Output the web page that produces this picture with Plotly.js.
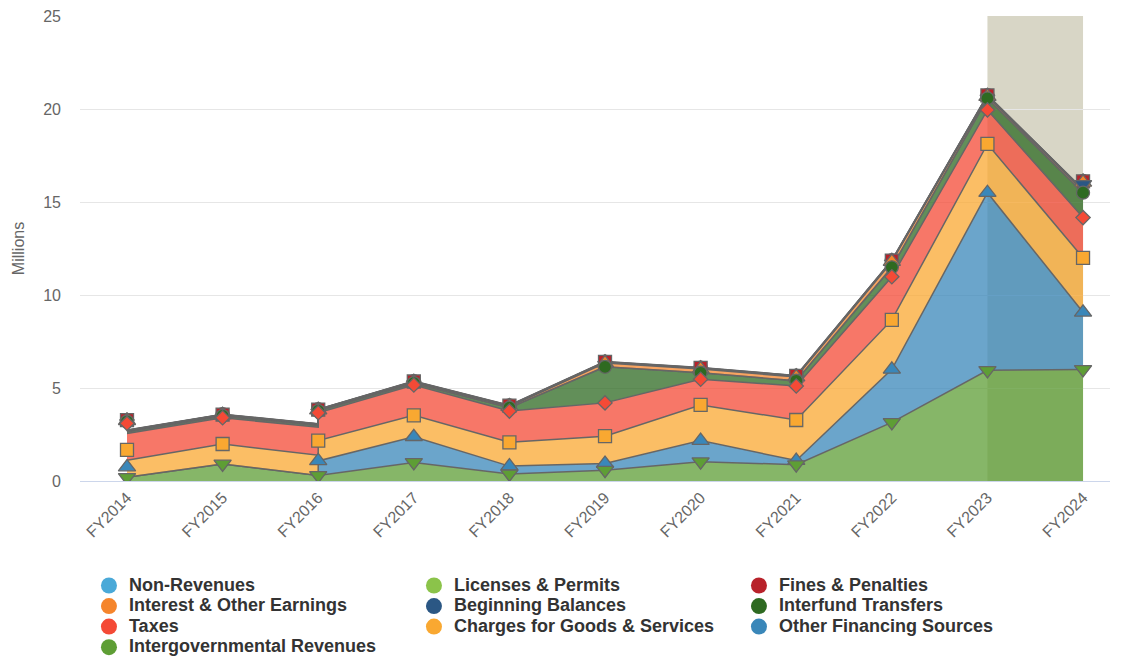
<!DOCTYPE html>
<html><head><meta charset="utf-8">
<script src="https://cdn.plot.ly/plotly-3.0.1.min.js"></script>
<style>html,body{margin:0;padding:0;background:#fff}#chart{width:1124px;height:658px}</style>
</head><body><div id="chart"></div>
<script>
// ---- data (millions) ----
const years = ['FY2014','FY2015','FY2016','FY2017','FY2018','FY2019','FY2020','FY2021','FY2022','FY2023','FY2024'];
const nonRevenues       = [0.01,0.01,0.01,0.01,0.01,0.01,0.01,0.01,0.01,0.01,0.01];
const licensesPermits   = [0.01,0.01,0.01,0.01,0.01,0.01,0.01,0.01,0.01,0.01,0.01];
const finesPenalties    = [0.03,0.03,0.03,0.04,0.05,0.06,0.06,0.06,0.06,0.06,0.06];
const interestEarnings  = [0.04,0.04,0.04,0.05,0.06,0.20,0.20,0.20,0.30,0.10,0.10];
const beginningBalances = [null,null,null,null,null,null,null,null,null,null,0.45];
const interfundTransfers= [0.10,0.10,0.10,0.10,0.18,1.94,0.35,0.28,0.51,0.62,1.34];
const taxes             = [1.43,1.41,1.50,1.63,1.68,1.79,1.38,1.83,2.32,1.83,2.16];
const chargesServices   = [0.92,1.07,1.09,1.15,1.28,1.47,1.92,2.18,2.66,2.62,2.93];
const otherFinancing    = [0.55,null,0.78,1.38,0.42,0.36,1.13,0.22,2.85,9.55,3.07];
const intergovernmental = [0.20,0.92,0.30,1.00,0.38,0.58,1.04,0.88,3.15,5.95,6.00];
const projectionBand = ['FY2023','FY2024'];

// series in legend order (first series sits on top of the stack)
const series = [
  {name:'Non-Revenues', values:nonRevenues, color:'#4aa9d8', symbol:'circle', size:13},
  {name:'Licenses & Permits', values:licensesPermits, color:'#8bc34a', symbol:'diamond', size:11},
  {name:'Fines & Penalties', values:finesPenalties, color:'#b8222a', symbol:'square', size:13},
  {name:'Interest & Other Earnings', values:interestEarnings, color:'#f5852c', symbol:'triangle-up', size:15},
  {name:'Beginning Balances', values:beginningBalances, color:'#2b5784', symbol:'triangle-down', size:15},
  {name:'Interfund Transfers', values:interfundTransfers, color:'#2e6a21', symbol:'circle', size:13},
  {name:'Taxes', values:taxes, color:'#f44a36', symbol:'diamond', size:11},
  {name:'Charges for Goods & Services', values:chargesServices, color:'#f9a831', symbol:'square', size:13},
  {name:'Other Financing Sources', values:otherFinancing, color:'#3a87b9', symbol:'triangle-up', size:15},
  {name:'Intergovernmental Revenues', values:intergovernmental, color:'#5e9e35', symbol:'triangle-down', size:15}
];

function rgba(hex, a){
  const r=parseInt(hex.slice(1,3),16), g=parseInt(hex.slice(3,5),16), b=parseInt(hex.slice(5,7),16);
  return 'rgba('+r+','+g+','+b+','+a+')';
}

const n = years.length;
const xIdx = years.map((_, i) => i);
const stack = series.slice().reverse(); // bottom of stack first
const traces = [];

// stacked areas: a segment of a series is drawn only when both ends are non-null (cliffs at gaps)
stack.forEach((s, k) => {
  const xs = [], ys = [];
  for (let i = 0; i < n - 1; i++) {
    let L = 0, R = 0;
    for (let j = 0; j <= k; j++) {
      const v = stack[j].values;
      if (v[i] != null && v[i+1] != null) { L += v[i]; R += v[i+1]; }
    }
    xs.push(i, i + 1); ys.push(L, R);
  }
  traces.push({
    type:'scatter', mode:'lines', x:xs, y:ys,
    fill: k === 0 ? 'tozeroy' : 'tonexty',
    fillcolor: rgba(s.color, 0.75),
    line:{color:'#666666', width:1.5, simplify:false},
    showlegend:false, hoverinfo:'skip'
  });
});

// markers at the stacked point values, drawn in series order
series.forEach((s) => {
  const k = stack.indexOf(s);
  const y = s.values.map((v, i) => {
    if (v == null) return null;
    let c = 0;
    for (let j = 0; j <= k; j++) c += (stack[j].values[i] || 0);
    return c;
  });
  traces.push({
    type:'scatter', mode:'markers', x:xIdx, y:y,
    marker:{symbol:s.symbol, size:s.size, color:s.color, line:{color:'#666666', width:1.3}},
    showlegend:false, hoverinfo:'skip'
  });
});

// legend entries
series.forEach((s) => {
  traces.push({
    type:'scatter', mode:'markers', x:[null], y:[null],
    name:'<span style="font-size:18px">' + s.name + '</span>',
    marker:{symbol:'circle', size:16, color:s.color, line:{width:0}},
    showlegend:true, hoverinfo:'skip'
  });
});

const layout = {
  width:1124, height:658,
  margin:{l:80, r:14, t:16, b:177},
  paper_bgcolor:'#ffffff', plot_bgcolor:'#ffffff',
  font:{family:'"Liberation Sans", Arial, Helvetica, sans-serif', color:'#666666'},
  xaxis:{
    range:[-0.4916, 10.282], tickmode:'array', tickvals:xIdx, ticktext:years,
    tickangle:-45, showgrid:false, zeroline:false, showline:true,
    linecolor:'#ccd6eb', linewidth:1, ticks:'', tickfont:{size:16, color:'#666666'}, fixedrange:true
  },
  yaxis:{
    range:[0,25], tickmode:'linear', tick0:0, dtick:5,
    gridcolor:'#e6e6e6', gridwidth:1, zeroline:false, showline:false,
    tickfont:{size:16, color:'#666666'}, ticklabelstandoff:18,
    title:{text:'Millions', font:{size:16, color:'#666666'}, standoff:14}, fixedrange:true
  },
  shapes:[{
    type:'rect', xref:'x', yref:'paper',
    x0:years.indexOf(projectionBand[0]), x1:years.indexOf(projectionBand[1]), y0:0, y1:1,
    fillcolor:'#d8d6c6', line:{width:0}, layer:'below'
  }],
  legend:{
    orientation:'h', traceorder:'normal',
    x:0.0087, xanchor:'left', yref:'container', y:0.1334, yanchor:'top',
    entrywidth:280, entrywidthmode:'pixels',
    font:{size:13.5, color:'#333333', weight:'bold'},
    bgcolor:'rgba(0,0,0,0)', itemclick:false, itemdoubleclick:false
  },
  showlegend:true, hovermode:false
};

Plotly.newPlot('chart', traces, layout, {displayModeBar:false, staticPlot:true});
</script>
</body></html>
